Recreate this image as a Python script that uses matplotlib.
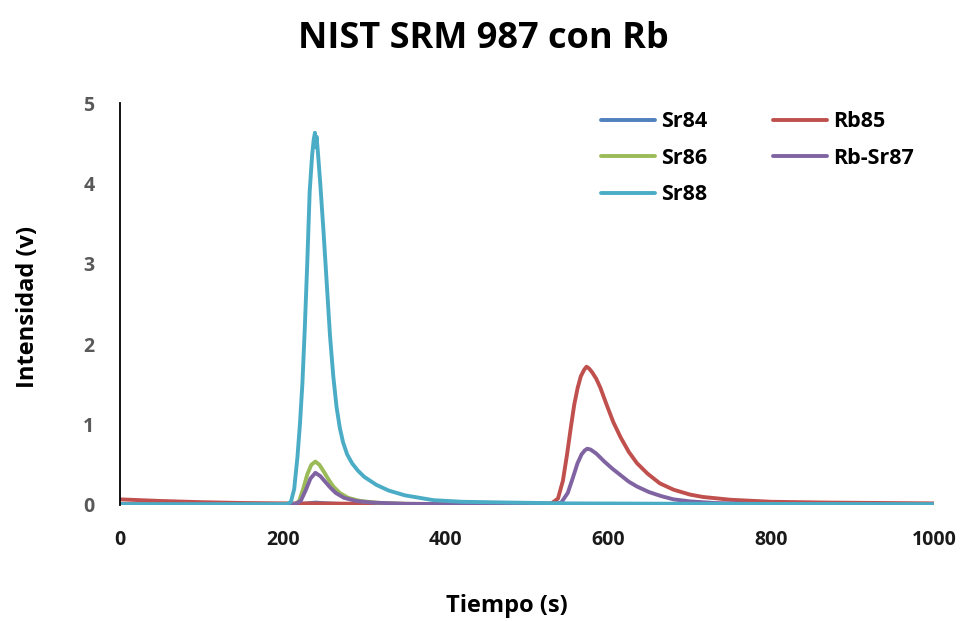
import numpy as np
import matplotlib.pyplot as plt

plt.rcParams['font.family'] = ['Open Sans', 'DejaVu Sans']
plt.rcParams['font.weight'] = 'bold'

# values (tiempo in s, intensidad in v)
t_sr84 = [0, 200, 220, 230, 240, 255, 280, 400, 1000]
sr84 = [0.003, 0.003, 0.005, 0.02, 0.03, 0.02, 0.008, 0.004, 0.003]

t_rb85 = [0, 50, 100, 150, 200, 240, 300, 450, 530, 538, 544, 549, 554, 558,
          562, 566, 570, 573, 576, 580, 585, 590, 598, 606, 615, 625, 635, 648,
          663, 680, 700, 716, 750, 800, 870, 1000]
rb85 = [0.07, 0.05, 0.035, 0.025, 0.02, 0.02, 0.015, 0.012, 0.02, 0.08, 0.3,
        0.62, 0.98, 1.25, 1.45, 1.6, 1.68, 1.72, 1.7, 1.65, 1.57, 1.46, 1.24,
        1.03, 0.84, 0.66, 0.52, 0.39, 0.27, 0.19, 0.13, 0.10, 0.065, 0.04,
        0.03, 0.02]

t_sr86 = [0, 210, 215, 220, 225, 230, 235, 240, 245, 250, 256, 262, 270, 280,
          295, 320, 360, 1000]
sr86 = [0.005, 0.005, 0.01, 0.05, 0.2, 0.38, 0.5, 0.54, 0.5, 0.42, 0.32, 0.23,
        0.15, 0.09, 0.05, 0.025, 0.012, 0.005]

t_rbsr87 = [0, 200, 215, 222, 228, 234, 240, 246, 252, 258, 265, 275, 290, 310,
            350, 450, 530, 542, 550, 556, 562, 567, 571, 574, 578, 585, 595, 605,
            615, 625, 635, 650, 665, 680, 700, 730, 780, 850, 1000]
rbsr87 = [0.01, 0.005, 0.01, 0.05, 0.18, 0.33, 0.40, 0.36, 0.29, 0.22, 0.15,
          0.09, 0.05, 0.03, 0.015, 0.008, 0.008, 0.03, 0.15, 0.33, 0.52, 0.63,
          0.68, 0.70, 0.69, 0.64, 0.54, 0.45, 0.37, 0.29, 0.23, 0.16, 0.11,
          0.07, 0.045, 0.025, 0.012, 0.008, 0.005]

t_sr88 = [0, 100, 205, 210, 214, 218, 221, 224, 227, 230, 233, 236, 238, 239.5,
          240.5, 241.5, 243, 246, 250, 254, 258, 262, 266, 270, 274, 279, 285,
          292, 300, 315, 330, 350, 385, 420, 480, 550, 700, 1000]
sr88 = [0.01, 0.01, 0.01, 0.04, 0.2, 0.6, 1.0, 1.5, 2.2, 3.0, 3.9, 4.35, 4.55,
        4.63, 4.45, 4.58, 4.4, 4.0, 3.4, 2.75, 2.1, 1.6, 1.22, 0.96, 0.78, 0.63,
        0.52, 0.43, 0.35, 0.25, 0.18, 0.12, 0.06, 0.04, 0.03, 0.02, 0.015, 0.01]

series = [
    ('Sr84', t_sr84, sr84, '#4F81BD'),
    ('Rb85', t_rb85, rb85, '#C0504D'),
    ('Sr86', t_sr86, sr86, '#9BBB59'),
    ('Rb-Sr87', t_rbsr87, rbsr87, '#8064A2'),
    ('Sr88', t_sr88, sr88, '#4BACC6'),
]

fig = plt.figure(figsize=(9.63, 6.21), dpi=100)
ax = fig.add_axes([0.1246, 0.1868, 0.8454, 0.6473])

lines = {}
for name, t, y, c in series:
    lines[name], = ax.plot(t, y, color=c, lw=2.8, label=name,
                           solid_capstyle='round', solid_joinstyle='round')

ax.set_xlim(0, 1000)
ax.set_ylim(0, 5)
ax.set_xticks(np.arange(0, 1001, 200))
ax.set_yticks(np.arange(0, 6, 1))
for s in ['top', 'right', 'bottom']:
    ax.spines[s].set_visible(False)
ax.spines['left'].set_color('black')
ax.spines['left'].set_linewidth(1.3)
ax.tick_params(length=0, labelsize=14)
ax.tick_params(axis='x', pad=18, labelcolor='#1a1a1a')
ax.tick_params(axis='y', pad=18.5, labelcolor='#595959')
for lab in ax.get_xticklabels() + ax.get_yticklabels():
    lab.set_fontweight('bold')

ax.set_xlabel('Tiempo (s)', fontsize=17, fontweight='bold')
ax.set_ylabel('Intensidad (v)', fontsize=17, fontweight='bold')
ax.xaxis.set_label_coords(0.526, 0.0435, transform=fig.transFigure)
ax.yaxis.set_label_coords(0.0415, 0.5056, transform=fig.transFigure)

fig.text(0.502, 0.938, 'NIST SRM 987 con Rb', ha='center', va='center',
         fontsize=26, fontweight='bold')

order = ['Sr84', 'Sr86', 'Sr88', 'Rb85', 'Rb-Sr87']
ax.legend([lines[n] for n in order], order, ncol=2, frameon=False,
          loc='upper left', bbox_to_anchor=(0.567, 1.028),
          handlelength=2.5, handletextpad=0.3, columnspacing=3.05,
          labelspacing=0.72, prop={'weight': 'bold', 'size': 15.5})

fig.savefig('out.png', dpi=100)
